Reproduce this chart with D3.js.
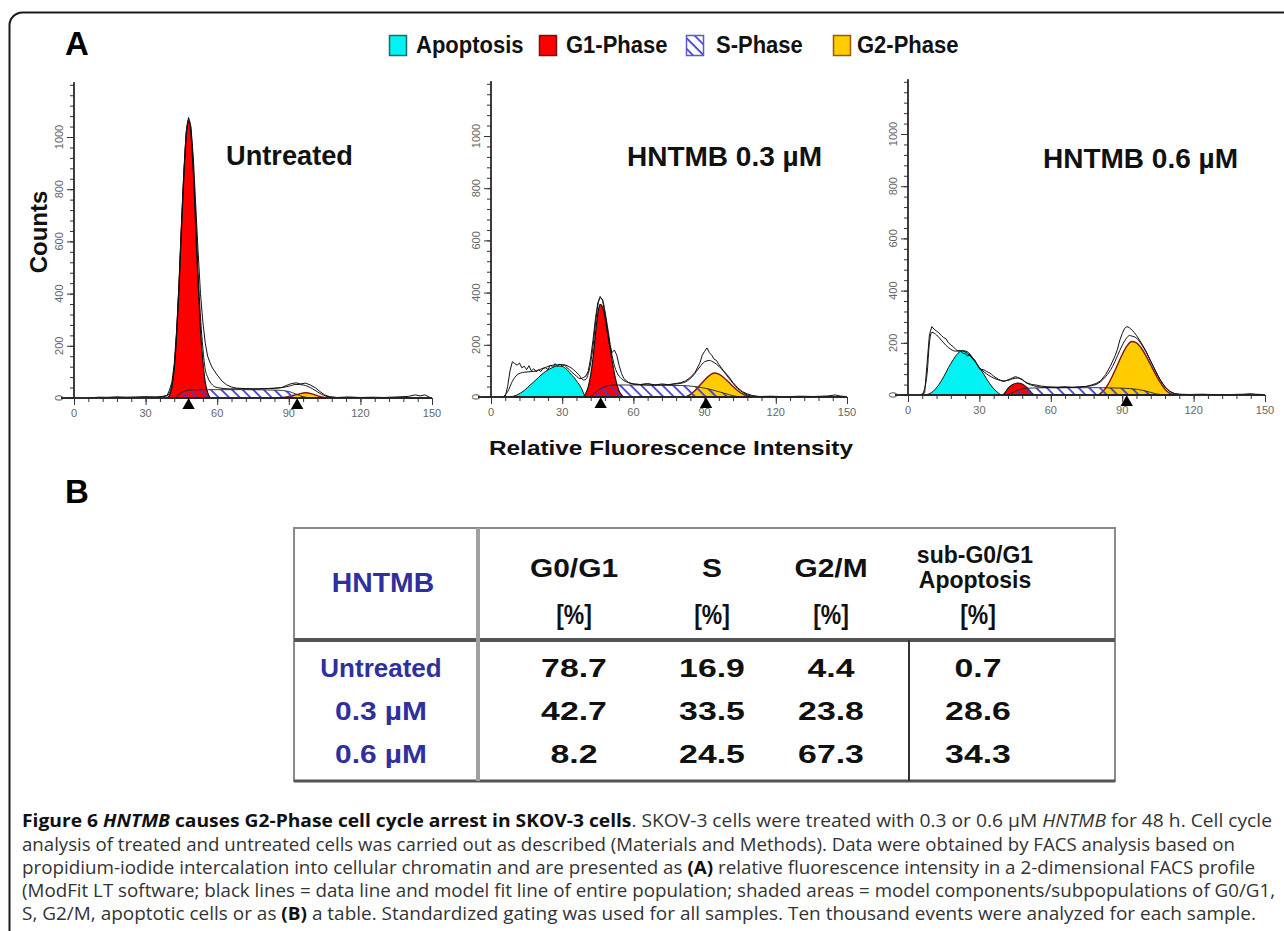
<!DOCTYPE html>
<html><head><meta charset="utf-8">
<script src="https://cdn.jsdelivr.net/npm/d3@7"></script>
<style>body{margin:0;background:#fff;}svg{display:block;}</style>
</head><body>
<svg id="fig" width="1284" height="931"></svg>
<script>
// ================= DATA =================
const legendLabels = ["Apoptosis", "G1-Phase", "S-Phase", "G2-Phase"];
const panelTitles = ["Untreated", "HNTMB 0.3 µM", "HNTMB 0.6 µM"];
const xTickValues = [0, 30, 60, 90, 120, 150];
const yTickValues = [0, 200, 400, 600, 800, 1000];
const xAxisLabel = "Relative Fluorescence Intensity";
const yAxisLabel = "Counts";

// [relative fluorescence, counts]
const untreatedApoptosis = [];
const untreatedG1 = [[39,0],[40,10],[41,40],[42,110],[43,240],[44,420],[45,640],[46,840],[47,1000],[48,1060],[49,1010],[50,860],[51,650],[52,440],[53,260],[54,140],[55,60],[56,20],[57,0]];
const untreatedS = [[42,0],[45,20],[48,30],[55,32],[70,32],[85,30],[90,25],[93,15],[96,5],[100,0]];
const untreatedG2 = [[86,0],[90,6],[94,15],[97,20],[100,15],[103,6],[106,0]];
const untreatedFit = [[6,0],[8,2],[20,3],[35,4],[39,8],[40,20],[41,50],[42,120],[43,255],[44,440],[45,660],[46,860],[47,1010],[48,1068],[49,1025],[50,885],[51,690],[52,480],[53,310],[54,190],[55,110],[56,80],[58,50],[60,40],[65,35],[75,35],[85,38],[90,45],[93,52],[96,50],[100,35],[103,18],[106,6],[110,2],[150,0]];
const untreatedData = [[8,0],[10,3],[14,2],[18,4],[22,2],[26,3],[30,5],[34,3],[37,6],[39,10],[40,30],[41,60],[42,130],[43,260],[44,440],[45,660],[46,860],[47,1020],[48,1075],[49,1040],[50,920],[51,740],[52,560],[53,400],[54,290],[55,210],[56,160],[57,135],[58,115],[60,88],[62,65],[64,50],[66,42],[68,38],[72,36],[76,34],[80,36],[84,37],[87,40],[89,48],[91,55],[93,58],[95,54],[97,57],[99,50],[101,40],[103,25],[105,12],[107,5],[110,2],[115,4],[120,2],[125,3],[130,2],[135,4],[140,6],[143,12],[145,8],[147,12],[149,3]];

const lowApoptosis = [[8,0],[11,8],[14,25],[17,50],[18,58],[20,75],[23,98],[26,113],[28,119],[30,117],[32,105],[34,84],[35,75],[36,62],[38,35],[39.6,0]];
const lowG1 = [[39,0],[40,15],[41,40],[42,85],[43,150],[44,240],[45,320],[46,355],[47,345],[48,305],[49,250],[50,195],[51,140],[52,90],[53,50],[54,22],[55,8],[56,0]];
const lowS = [[42,0],[45,25],[48,40],[52,46],[60,46],[70,45],[80,44],[86,40],[92,30],[98,15],[102,5],[105,0]];
const lowG2 = [[82,0],[84,10],[86,25],[88,45],[90,65],[92,82],[94,92],[96,88],[98,75],[100,58],[102,40],[104,24],[106,12],[108,4],[110,0]];
const lowFit = [[5,0],[7,20],[9,60],[11,85],[14,95],[18,98],[22,110],[26,122],[30,124],[34,110],[37,85],[39,65],[40,68],[41,90],[42,130],[43,195],[44,280],[45,350],[46,380],[47,372],[48,330],[49,275],[50,215],[51,160],[52,120],[53,95],[55,70],[58,55],[62,48],[70,46],[78,50],[82,58],[85,80],[88,115],[90,135],[92,140],[94,132],[96,118],[98,98],[100,75],[102,52],[104,32],[106,18],[108,8],[111,2],[115,0],[150,0]];
const lowData = [[4,0],[6,2],[7,40],[8,100],[9,135],[10,128],[11,122],[12,130],[13,112],[14,118],[15,105],[16,120],[17,100],[18,108],[19,96],[20,104],[21,98],[22,110],[23,112],[24,105],[25,122],[26,115],[27,128],[28,118],[29,126],[30,120],[31,123],[32,112],[33,105],[34,95],[35,88],[36,80],[37,72],[38,70],[39,75],[40,80],[41,100],[42,150],[43,220],[44,300],[45,360],[46,385],[47,370],[48,320],[49,260],[50,200],[51,170],[52,180],[53,160],[54,120],[55,90],[56,70],[58,55],[60,50],[63,48],[66,52],[69,46],[72,50],[75,47],[78,52],[80,55],[82,62],[84,75],[86,95],[88,130],[89,160],[90,175],[91,188],[92,170],[93,160],[94,145],[95,140],[96,125],[98,100],[100,80],[102,55],[104,35],[106,20],[108,12],[110,6],[113,2],[118,3],[124,1],[130,3],[136,2],[142,4],[145,8],[147,4],[149,2]];

const highApoptosis = [[7,0],[10,10],[13,40],[15,70],[17,105],[19,135],[21,160],[23,170],[25,165],[27,145],[29,118],[31,92],[33,62],[35,35],[37,15],[39,0]];
const highG1 = [[40,0],[41,12],[42,25],[44,40],[46,46],[48,42],[50,28],[51,18],[52,8],[53,0]];
const highS = [[42,0],[46,18],[50,26],[60,28],[70,28],[80,28],[90,26],[96,22],[100,15],[104,5],[107,0]];
const highG2 = [[80,0],[82,15],[84,40],[86,75],[88,115],[90,155],[92,188],[94,205],[96,200],[98,180],[100,150],[102,115],[104,80],[106,48],[108,22],[110,6],[112,0]];
const highFit = [[6,0],[8,80],[9,200],[10,240],[12,230],[14,210],[16,190],[18,175],[20,168],[22,170],[24,165],[26,150],[28,130],[30,105],[32,88],[34,75],[36,65],[38,58],[40,54],[42,56],[44,62],[46,65],[48,58],[50,45],[53,35],[56,30],[62,28],[70,30],[76,34],[80,45],[83,70],[86,110],[88,150],[90,190],[92,220],[93,228],[94,226],[96,218],[98,195],[100,165],[102,128],[104,92],[106,58],[108,32],[110,14],[112,5],[115,2],[150,0]];
const highData = [[5,0],[7,8],[8,120],[9,230],[10,262],[11,252],[12,245],[13,238],[14,228],[15,220],[16,215],[17,200],[18,192],[19,185],[20,175],[21,168],[22,170],[23,160],[24,158],[25,150],[26,155],[27,140],[28,135],[29,118],[30,100],[31,98],[32,96],[33,90],[34,86],[35,80],[36,72],[37,66],[38,60],[39,56],[40,52],[41,54],[42,58],[43,62],[44,66],[45,70],[46,68],[47,64],[48,60],[49,52],[50,46],[51,44],[52,40],[54,38],[56,34],[58,32],[60,31],[63,30],[66,32],[69,29],[72,31],[75,33],[77,38],[79,44],[81,55],[83,78],[85,110],[87,150],[88,175],[89,210],[90,235],[91,255],[92,262],[93,258],[94,250],[95,240],[96,228],[98,200],[100,168],[102,130],[104,92],[106,58],[108,30],[110,14],[112,6],[114,3],[118,2],[124,3],[130,1],[136,2],[141,3],[144,5],[146,3],[149,2]];

// peak markers (channel of G1 / G2 mean)
const untreatedMarkers = [48, 93.5];
const lowMarkers = [46.2, 90.6];
const highMarkers = [91.9];

// table
const tableHeaderLabel = "HNTMB";
const tableColumns = ["G0/G1", "S", "G2/M"];
const tableLastColumn = ["sub-G0/G1", "Apoptosis"];
const tableUnit = "[%]";
const tableRowLabels = ["Untreated", "0.3 µM", "0.6 µM"];
const g0g1Values = [78.7, 42.7, 8.2];
const sValues = [16.9, 33.5, 24.5];
const g2mValues = [4.4, 23.8, 67.3];
const apoptosisValues = [0.7, 28.6, 34.3];

const captionLines = [
  [["Figure 6 ","b"],["HNTMB","bi"],[" causes G2-Phase cell cycle arrest in SKOV-3 cells","b"],[". SKOV-3 cells were treated with 0.3 or 0.6 µM ",""],["HNTMB","i"],[" for 48 h. Cell cycle",""]],
  [["analysis of treated and untreated cells was carried out as described (Materials and Methods). Data were obtained by FACS analysis based on",""]],
  [["propidium-iodide intercalation into cellular chromatin and are presented as ",""],["(A)","b"],[" relative fluorescence intensity in a 2-dimensional FACS profile",""]],
  [["(ModFit LT software; black lines = data line and model fit line of entire population; shaded areas = model components/subpopulations of G0/G1,",""]],
  [["S, G2/M, apoptotic cells or as ",""],["(B)","b"],[" a table. Standardized gating was used for all samples. Ten thousand events were analyzed for each sample.",""]]
];

// ================= LAYOUT / STYLE =================
const COLORS = { apo: "#00f2f2", g1: "#ff0000", g2: "#ffcc00", hatch: "#3b3bd6", blue: "#2f2f9e" };
const panelLayout = [
  { x0: 74, x1: 432, base: 398, tx: 226, ty: 165, tw: 127 },
  { x0: 491, x1: 847, base: 397, tx: 627, ty: 166, tw: 195 },
  { x0: 908, x1: 1265, base: 395, tx: 1043, ty: 168, tw: 195 }
];
const panelSeries = [
  { apo: untreatedApoptosis, g1: untreatedG1, s: untreatedS, g2: untreatedG2, fit: untreatedFit, data: untreatedData, marks: untreatedMarkers },
  { apo: lowApoptosis, g1: lowG1, s: lowS, g2: lowG2, fit: lowFit, data: lowData, marks: lowMarkers },
  { apo: highApoptosis, g1: highG1, s: highS, g2: highG2, fit: highFit, data: highData, marks: highMarkers }
];
const PX_PER_COUNT = 0.261, YMAX = 1210;

const svg = d3.select("#fig");
const FONT = "'Liberation Sans', Arial, Helvetica, sans-serif";

// defs: hatch pattern
const defs = svg.append("defs");
const pat = defs.append("pattern").attr("id", "hatch").attr("patternUnits", "userSpaceOnUse")
  .attr("width", 7.5).attr("height", 7.5).attr("patternTransform", "rotate(-45)");
pat.append("line").attr("x1", 1).attr("y1", 0).attr("x2", 1).attr("y2", 7.5)
  .attr("stroke", COLORS.hatch).attr("stroke-width", 1.7);

// frame
svg.append("rect").attr("x", 9.5).attr("y", 12.5).attr("width", 1400).attr("height", 1100)
  .attr("rx", 13).attr("fill", "none").attr("stroke", "#1a1a1a").attr("stroke-width", 2);

// panel letters
svg.append("text").attr("x", 65).attr("y", 55).attr("font-family", FONT).attr("font-weight", "bold")
  .attr("font-size", 33).text("A");
svg.append("text").attr("x", 65).attr("y", 503).attr("font-family", FONT).attr("font-weight", "bold")
  .attr("font-size", 33).text("B");

// legend
const legendLayout = [{ sx: 389, tx: 416 }, { sx: 539, tx: 566 }, { sx: 686, tx: 716 }, { sx: 833, tx: 857 }];
const legendFills = [COLORS.apo, COLORS.g1, "url(#hatch)", COLORS.g2];
const legendStrokes = ["#1f6b6b", "#7a1010", "#5a5ac8", "#9a5a00"];
legendLabels.forEach((lab, i) => {
  const g = svg.append("g");
  if (i === 2) g.append("rect").attr("x", legendLayout[i].sx).attr("y", 35).attr("width", 18).attr("height", 21).attr("fill", "#fff");
  g.append("rect").attr("x", legendLayout[i].sx + 0.5).attr("y", 35.5).attr("width", 17).attr("height", 20)
    .attr("fill", legendFills[i]).attr("stroke", legendStrokes[i]).attr("stroke-width", 1.5);
  g.append("text").attr("transform", `translate(${legendLayout[i].tx},53) scale(1,1.1)`).attr("font-family", FONT)
    .attr("font-weight", "bold").attr("font-size", 22).attr("fill", "#111").text(lab);
});

// panels
panelLayout.forEach((L, pi) => {
  const S = panelSeries[pi];
  const x = d3.scaleLinear().domain([0, 150]).range([L.x0, L.x1]);
  const y = d3.scaleLinear().domain([0, YMAX]).range([L.base, L.base - YMAX * PX_PER_COUNT]);
  const g = svg.append("g");
  const area = d3.area().x(d => x(d[0])).y0(y(0)).y1(d => y(d[1])).curve(d3.curveMonotoneX);
  const line = d3.line().x(d => x(d[0])).y(d => y(d[1])).curve(d3.curveMonotoneX);
  const rawLine = d3.line().x(d => x(d[0])).y(d => y(d[1])).curve(d3.curveLinear);

  if (S.apo.length) g.append("path").datum(S.apo).attr("d", area).attr("fill", COLORS.apo)
    .attr("stroke", "#111").attr("stroke-width", 1);
  g.append("path").datum(S.g1).attr("d", area).attr("fill", COLORS.g1).attr("stroke", "#111").attr("stroke-width", 1.2);
  g.append("path").datum(S.g2).attr("d", area).attr("fill", COLORS.g2).attr("stroke", "#8a1010").attr("stroke-width", 1.4);
  g.append("path").datum(S.s).attr("d", area).attr("fill", "url(#hatch)").attr("stroke", "#222").attr("stroke-width", 0.9);
  g.append("path").datum(S.fit).attr("d", line).attr("fill", "none").attr("stroke", "#111").attr("stroke-width", 1);
  g.append("path").datum(S.data).attr("d", rawLine).attr("fill", "none").attr("stroke", "#111").attr("stroke-width", 1);

  // y axis
  const yMinor = d3.axisLeft(y).tickValues(d3.range(0, 1201, 40)).tickSize(4).tickFormat("");
  const yMajor = d3.axisLeft(y).tickValues(yTickValues).tickSize(7).tickFormat("");
  const ya = g.append("g").attr("transform", `translate(${L.x0},0)`);
  ya.call(yMinor); ya.append("g").call(yMajor);
  ya.selectAll(".domain").attr("stroke", "#222").attr("stroke-width", 1.3)
    .attr("d", `M0,${y(0)}V${y(YMAX)}`);
  ya.selectAll("line").attr("stroke", "#333").attr("stroke-width", 1);
  yTickValues.forEach(v => {
    ya.append("text").attr("transform", `translate(-15,${y(v)}) rotate(-90)`)
      .attr("text-anchor", "middle").attr("dominant-baseline", "central")
      .attr("font-family", FONT).attr("font-size", 11).attr("fill", "#666").text(v);
  });

  // x axis
  const xMinor = d3.axisBottom(x).tickValues(d3.range(0, 151, 6)).tickSize(4).tickFormat("");
  const xMajor = d3.axisBottom(x).tickValues(xTickValues).tickSize(7).tickFormat("");
  const xa = g.append("g").attr("transform", `translate(0,${L.base})`);
  xa.call(xMinor); xa.append("g").call(xMajor);
  xa.selectAll(".domain").attr("stroke", "#222").attr("stroke-width", 1.3)
    .attr("d", `M${x(0) - 13},0H${x(150)}`);
  xa.selectAll("line").attr("stroke", "#333").attr("stroke-width", 1);
  xTickValues.forEach(v => {
    xa.append("text").attr("x", x(v)).attr("y", 19).attr("text-anchor", "middle")
      .attr("font-family", FONT).attr("font-size", 11).attr("fill", "#666").text(v);
  });

  // markers
  g.selectAll("path.mk").data(S.marks).enter().append("path").attr("class", "mk")
    .attr("d", d3.symbol().type(d3.symbolTriangle).size(66))
    .attr("transform", d => `translate(${x(d)},${L.base + 7.5})`).attr("fill", "#000");

  // title
  g.append("text").attr("x", L.tx).attr("y", L.ty).attr("font-family", FONT).attr("font-weight", "bold")
    .attr("font-size", 27).attr("fill", "#111").attr("textLength", L.tw).attr("lengthAdjust", "spacingAndGlyphs")
    .text(panelTitles[pi]);
});

// axis titles
svg.append("text").attr("transform", "translate(47,232) rotate(-90)").attr("text-anchor", "middle")
  .attr("font-family", FONT).attr("font-weight", "bold").attr("font-size", 24).attr("fill", "#111").text(yAxisLabel);
svg.append("text").attr("x", 489).attr("y", 455).attr("font-family", FONT).attr("font-weight", "bold")
  .attr("font-size", 21).attr("fill", "#111").attr("textLength", 364).attr("lengthAdjust", "spacingAndGlyphs").text(xAxisLabel);

// ================= TABLE =================
const T = { left: 294, top: 528, right: 1115, bottom: 781, sep: 640, col1: 478, col5: 909 };
const tg = svg.append("g");
tg.append("rect").attr("x", T.left).attr("y", T.top).attr("width", T.right - T.left).attr("height", T.bottom - T.top)
  .attr("fill", "#fff").attr("stroke", "#8a8a8a").attr("stroke-width", 2);
tg.append("line").attr("x1", T.left).attr("x2", T.right).attr("y1", T.bottom).attr("y2", T.bottom).attr("stroke", "#555").attr("stroke-width", 3);
tg.append("line").attr("x1", T.left).attr("x2", T.right).attr("y1", T.sep).attr("y2", T.sep).attr("stroke", "#555").attr("stroke-width", 4);
tg.append("line").attr("x1", T.col1).attr("x2", T.col1).attr("y1", T.top).attr("y2", T.bottom).attr("stroke", "#a0a0a0").attr("stroke-width", 4);
tg.append("line").attr("x1", T.col5).attr("x2", T.col5).attr("y1", T.sep).attr("y2", T.bottom).attr("stroke", "#333").attr("stroke-width", 2);

function cell(txt, cx, by, size, sx, color) {
  tg.append("text").attr("transform", `translate(${cx},${by}) scale(${sx},1)`).attr("text-anchor", "middle")
    .attr("font-family", FONT).attr("font-weight", "bold").attr("font-size", size).attr("fill", color).text(txt);
}
const colCenters = [574, 712, 831, 978];
const rowBaselines = [677, 720, 763];
cell(tableHeaderLabel, 383, 592, 27, 1.05, COLORS.blue);
tableColumns.forEach((c, i) => cell(c, colCenters[i], 577, 26, 1.15, "#111"));
cell(tableLastColumn[0], 975, 563, 23, 1.0, "#111");
cell(tableLastColumn[1], 975, 588, 23, 1.0, "#111");
colCenters.forEach(cx => cell(tableUnit, cx, 624, 28, 0.82, "#111"));
tableRowLabels.forEach((r, i) => cell(r, 381, rowBaselines[i], 26, r === "Untreated" ? 1.0 : 1.15, COLORS.blue));
[g0g1Values, sValues, g2mValues, apoptosisValues].forEach((vals, ci) => {
  vals.forEach((v, ri) => cell(v.toFixed(1), colCenters[ci], rowBaselines[ri], 26, 1.3, "#111"));
});

// ================= CAPTION =================
const capBaselines = [827, 851, 874, 897, 920];
const capWidths = [1250, 1213, 1233, 1253, 1234];
captionLines.forEach((parts, li) => {
  const t = svg.append("text").attr("x", 22).attr("y", capBaselines[li]).attr("font-family", "'Open Sans', sans-serif")
    .attr("font-size", 17.5).attr("fill", "#333").attr("textLength", capWidths[li]).attr("lengthAdjust", "spacingAndGlyphs");
  parts.forEach(([s, st]) => {
    const ts = t.append("tspan").text(s);
    if (st.includes("b")) ts.attr("font-weight", "bold").attr("fill", "#111");
    if (st.includes("i")) ts.attr("font-style", "italic");
  });
});
</script>
</body></html>
